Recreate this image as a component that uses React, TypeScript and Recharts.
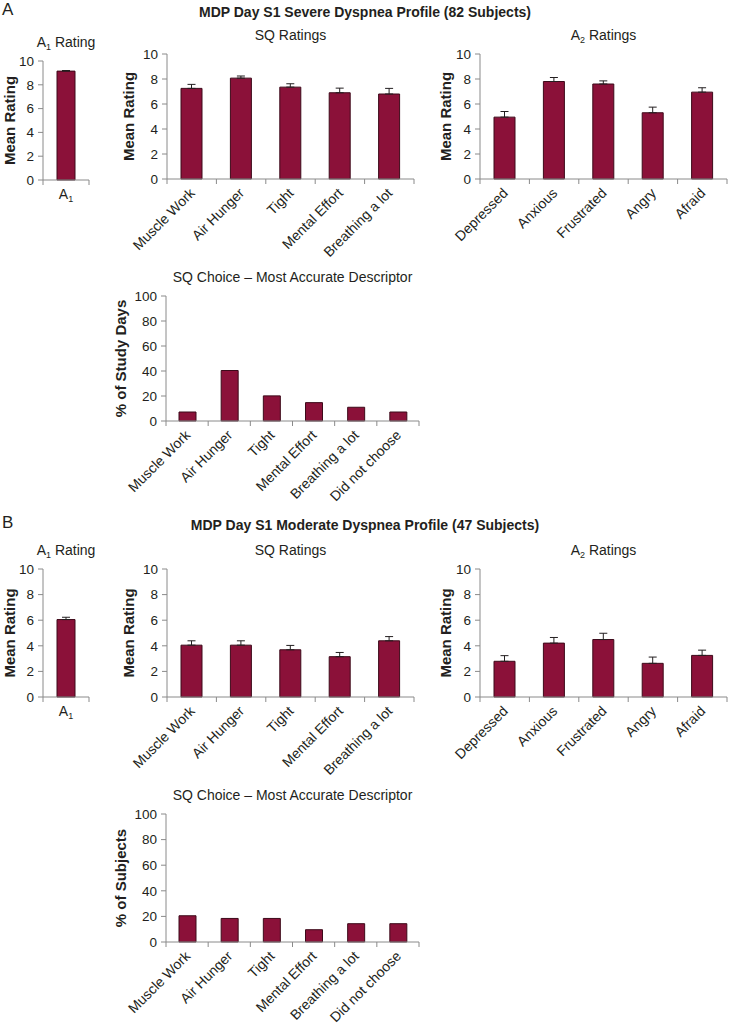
import React from "react";
import { BarChart, Bar, XAxis, YAxis, ErrorBar } from "recharts";

const sqLabels = ["Muscle Work", "Air Hunger", "Tight", "Mental Effort", "Breathing a lot"];
const a2Labels = ["Depressed", "Anxious", "Frustrated", "Angry", "Afraid"];
const choiceLabels = ["Muscle Work", "Air Hunger", "Tight", "Mental Effort", "Breathing a lot", "Did not choose"];
const a1Labels = ["A1"];
const ratingTicks = [0, 2, 4, 6, 8, 10];
const pctTicks = [0, 20, 40, 60, 80, 100];

// A: severe dyspnea profile, 82 subjects
const a1Severe = [9.15];
const a1SevereErr = [0.05];
const sqSevere = [7.25, 8.07, 7.35, 6.9, 6.8];
const sqSevereErr = [0.32, 0.17, 0.27, 0.37, 0.45];
const a2Severe = [4.95, 7.8, 7.6, 5.3, 6.95];
const a2SevereErr = [0.45, 0.32, 0.25, 0.45, 0.35];
const choiceSevere = [7.2, 40.4, 20.1, 14.7, 11.0, 7.2];

// B: moderate dyspnea profile, 47 subjects
const a1Moderate = [6.05];
const a1ModerateErr = [0.18];
const sqModerate = [4.05, 4.05, 3.69, 3.15, 4.39];
const sqModerateErr = [0.34, 0.34, 0.34, 0.33, 0.33];
const a2Moderate = [2.79, 4.21, 4.49, 2.63, 3.25];
const a2ModerateErr = [0.44, 0.44, 0.49, 0.49, 0.41];
const choiceModerate = [20.5, 18.4, 18.4, 9.6, 14.3, 14.3];

const FONT = '"Liberation Sans", Arial, Helvetica, sans-serif';
const MAROON = "#8b1139";
const EDGE = "#3d0a1a";
const AXIS = "#8a8a8a";
const TEXT = "#231f20";

type Row = { name: string; value: number; err?: number[] };

function rows(labels: string[], values: number[], errs?: number[]): Row[] {
  return labels.map((name, i) => ({
    name,
    value: values[i],
    err: errs ? [0, errs[i]] : undefined,
  }));
}

function CatTick(props: any) {
  const { x, y, payload, index, visibleTicksCount, rotate } = props;
  const half = payload.offset ?? 0;
  const last = index === visibleTicksCount - 1;
  return (
    <g>
      <line x1={x - half} y1={y} x2={x - half} y2={y + 5} stroke={AXIS} />
      {last && <line x1={x + half} y1={y} x2={x + half} y2={y + 5} stroke={AXIS} />}
      {rotate ? (
        <text
          x={x + 4}
          y={y + 15}
          transform={`rotate(-45 ${x + 4} ${y + 15})`}
          textAnchor="end"
          fontSize={14}
          fontFamily={FONT}
          fill={TEXT}
        >
          {payload.value}
        </text>
      ) : (
        <text x={x} y={y + 19} textAnchor="middle" fontSize={14} fontFamily={FONT} fill={TEXT}>
          <tspan>{String(payload.value).charAt(0)}</tspan>
          <tspan fontSize={9} dy={3}>
            {String(payload.value).slice(1)}
          </tspan>
        </text>
      )}
    </g>
  );
}

type PanelProps = {
  data: Row[];
  plotX: number;
  plotY: number;
  plotW: number;
  plotH: number;
  yMax: number;
  ticks: number[];
  barSize: number;
  yLabel: string;
  yLabelX: number;
  title: React.ReactNode;
  titleY: number;
  rotate?: boolean;
};

function Panel(p: PanelProps) {
  const mt = 10;
  const mr = 3;
  const left = p.yLabelX - 10;
  const yw = p.plotX - left;
  const xh = p.rotate ? 100 : 30;
  const hasErr = p.data[0].err !== undefined;
  return (
    <>
      <div
        style={{
          position: "absolute",
          left: p.plotX - 60,
          width: p.plotW + 120,
          top: p.titleY - 9,
          lineHeight: "18px",
          textAlign: "center",
          fontSize: 14,
          fontFamily: FONT,
          color: TEXT,
          whiteSpace: "nowrap",
        }}
      >
        {p.title}
      </div>
      <div style={{ position: "absolute", left, top: p.plotY - mt }}>
        <BarChart
          width={yw + p.plotW + mr}
          height={mt + p.plotH + xh}
          data={p.data}
          margin={{ top: mt, right: mr, left: 0, bottom: 0 }}
        >
          <XAxis
            dataKey="name"
            interval={0}
            height={xh}
            tickSize={0}
            tickMargin={0}
            tickLine={false}
            axisLine={{ stroke: AXIS }}
            tick={<CatTick rotate={p.rotate} />}
          />
          <YAxis
            type="number"
            domain={[0, p.yMax]}
            ticks={p.ticks}
            interval={0}
            width={yw}
            tickSize={5}
            tickMargin={4}
            axisLine={{ stroke: AXIS }}
            tickLine={{ stroke: AXIS }}
            tick={{ fontSize: 13.5, fill: TEXT, fontFamily: FONT }}
            label={{
              value: p.yLabel,
              angle: -90,
              position: "insideLeft",
              offset: 10,
              style: { textAnchor: "middle", fontWeight: "bold", fontSize: 15, fill: TEXT, fontFamily: FONT },
            }}
          />
          <Bar dataKey="value" fill={MAROON} stroke={EDGE} strokeWidth={1} barSize={p.barSize} isAnimationActive={false}>
            {hasErr && <ErrorBar dataKey="err" width={4} stroke={TEXT} strokeWidth={1} direction="y" />}
          </Bar>
        </BarChart>
      </div>
    </>
  );
}

const sub = (s: string) => <sub style={{ fontSize: 9, lineHeight: 0, verticalAlign: "-3px" }}>{s}</sub>;

function Heading({ y, text }: { y: number; text: string }) {
  return (
    <div
      style={{
        position: "absolute",
        left: 0,
        width: 730,
        top: y - 9,
        lineHeight: "18px",
        textAlign: "center",
        fontWeight: "bold",
        fontSize: 14,
        fontFamily: FONT,
        color: TEXT,
      }}
    >
      {text}
    </div>
  );
}

function Letter({ y, text }: { y: number; text: string }) {
  return (
    <div style={{ position: "absolute", left: 2, top: y - 10, lineHeight: "20px", fontSize: 17, fontFamily: FONT, color: TEXT }}>
      {text}
    </div>
  );
}

function Profile(props: {
  top: number;
  letter: string;
  heading: string;
  a1: number[];
  a1Err: number[];
  sq: number[];
  sqErr: number[];
  a2: number[];
  a2Err: number[];
  choice: number[];
  choiceLabel: string;
  a1Y: number;
  a1H: number;
  rowY: number;
  rowH: number;
  choiceY: number;
}) {
  const t = props.top;
  return (
    <>
      <Letter y={t + 10} text={props.letter} />
      <Heading y={t + 12} text={props.heading} />
      <Panel
        data={rows(a1Labels, props.a1, props.a1Err)}
        plotX={43}
        plotY={props.a1Y}
        plotW={46}
        plotH={props.a1H}
        yMax={10}
        ticks={ratingTicks}
        barSize={18}
        yLabel="Mean Rating"
        yLabelX={10}
        title={<>A{sub("1")} Rating</>}
        titleY={props.a1Y - 19}
      />
      <Panel
        data={rows(sqLabels, props.sq, props.sqErr)}
        plotX={167}
        plotY={props.rowY}
        plotW={247}
        plotH={props.rowH}
        yMax={10}
        ticks={ratingTicks}
        barSize={21}
        yLabel="Mean Rating"
        yLabelX={129}
        title="SQ Ratings"
        titleY={props.rowY - 19}
        rotate
      />
      <Panel
        data={rows(a2Labels, props.a2, props.a2Err)}
        plotX={480}
        plotY={props.rowY}
        plotW={247}
        plotH={props.rowH}
        yMax={10}
        ticks={ratingTicks}
        barSize={21}
        yLabel="Mean Rating"
        yLabelX={446}
        title={<>A{sub("2")} Ratings</>}
        titleY={props.rowY - 19}
        rotate
      />
      <Panel
        data={rows(choiceLabels, props.choice)}
        plotX={166}
        plotY={props.choiceY}
        plotW={253}
        plotH={props.rowH}
        yMax={100}
        ticks={pctTicks}
        barSize={17}
        yLabel={props.choiceLabel}
        yLabelX={121}
        title="SQ Choice – Most Accurate Descriptor"
        titleY={props.choiceY - 19}
        rotate
      />
    </>
  );
}

export default function App() {
  return (
    <div
      style={{
        position: "absolute",
        left: 0,
        top: 0,
        width: 730,
        height: 1026,
        overflow: "hidden",
        background: "#fff",
      }}
    >
      <Profile
        top={0}
        letter="A"
        heading="MDP Day S1 Severe Dyspnea Profile (82 Subjects)"
        a1={a1Severe}
        a1Err={a1SevereErr}
        sq={sqSevere}
        sqErr={sqSevereErr}
        a2={a2Severe}
        a2Err={a2SevereErr}
        choice={choiceSevere}
        choiceLabel="% of Study Days"
        a1Y={61}
        a1H={119}
        rowY={54}
        rowH={125}
        choiceY={296}
      />
      <Profile
        top={513}
        letter="B"
        heading="MDP Day S1 Moderate Dyspnea Profile (47 Subjects)"
        a1={a1Moderate}
        a1Err={a1ModerateErr}
        sq={sqModerate}
        sqErr={sqModerateErr}
        a2={a2Moderate}
        a2Err={a2ModerateErr}
        choice={choiceModerate}
        choiceLabel="% of Subjects"
        a1Y={569}
        a1H={128}
        rowY={569}
        rowH={128}
        choiceY={814}
      />
    </div>
  );
}
